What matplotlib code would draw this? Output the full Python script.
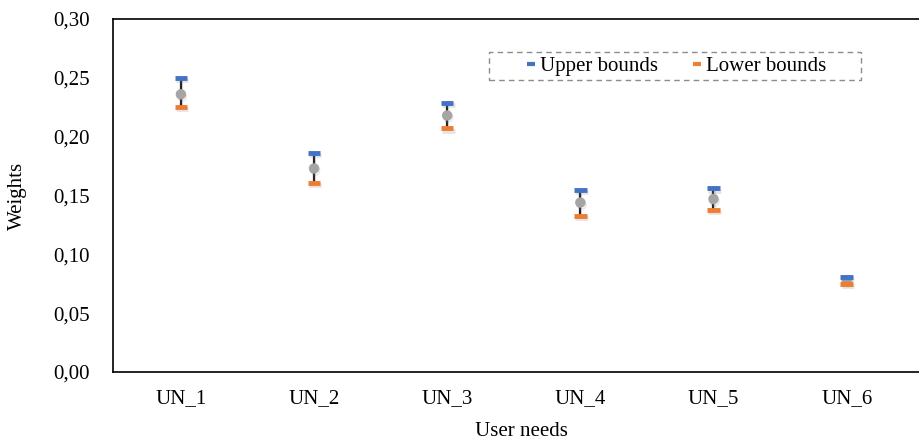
import matplotlib
matplotlib.use("Agg")
import matplotlib.pyplot as plt
from matplotlib.lines import Line2D
from matplotlib.patches import Rectangle
import matplotlib.patheffects as pe
from matplotlib.ticker import FuncFormatter

categories = ["UN_1", "UN_2", "UN_3", "UN_4", "UN_5", "UN_6"]
upper = [0.250, 0.186, 0.229, 0.155, 0.156, 0.081]
lower = [0.225, 0.161, 0.207, 0.133, 0.138, 0.075]
mid = [0.236, 0.173, 0.218, 0.144, 0.147, 0.078]
yticks = [0.00, 0.05, 0.10, 0.15, 0.20, 0.25, 0.30]

plt.rcParams['font.family'] = ['Liberation Serif', 'DejaVu Serif']

fig = plt.figure(figsize=(9.2, 4.41), dpi=100)
ax = fig.add_axes([113/920, 1-372/441, 1-113/920 + 0.01, (372-19)/441])

x = list(range(len(categories)))
shadow = [pe.SimpleLineShadow(offset=(0.8, -1.5), shadow_color='gray', alpha=0.2), pe.Normal()]

for i in x:
    ax.plot([i, i], [lower[i], upper[i]], color='#262626', lw=1.6, zorder=2,
            path_effects=shadow, solid_capstyle='butt')
ax.plot(x, mid, linestyle='none', marker='o', markersize=6.5, color='#A5A5A5',
        zorder=3, path_effects=shadow)
ax.plot(x, upper, linestyle='none', marker='_', markersize=9, mew=3.5,
        color='#4472C4', zorder=4, path_effects=shadow)
ax.plot(x, lower, linestyle='none', marker='_', markersize=9, mew=3.5,
        color='#ED7D31', zorder=4, path_effects=shadow)

ax.set_xlim(-0.51, 5.62)
ax.set_ylim(0, 0.30)
ax.set_xticks(x)
ax.set_xticklabels(categories)
ax.set_yticks(yticks)
ax.yaxis.set_major_formatter(FuncFormatter(lambda v, p: f"{v:.2f}".replace('.', ',')))
ax.tick_params(axis='y', length=0, labelsize=15, pad=17)
ax.tick_params(axis='x', length=0, labelsize=15, pad=12)
ax.spines['right'].set_visible(False)
for s in ['left', 'bottom', 'top']:
    ax.spines[s].set_linewidth(1.2)
ax.set_xlabel("User needs", fontsize=15, labelpad=10)
ax.set_ylabel("Weights", fontsize=15)
ax.yaxis.set_label_coords(27/920, 1-195.5/441, transform=fig.transFigure)

# legend
fig.patches.append(Rectangle((489/920, 1-80/441), (861-489)/920, 28/441,
                             transform=fig.transFigure, fill=False,
                             edgecolor='#8c8c8c', linestyle=(0, (4, 3)), lw=1.0))
handles = [Line2D([], [], linestyle='none', marker='_', markersize=6, mew=3, color='#4472C4'),
           Line2D([], [], linestyle='none', marker='_', markersize=6, mew=3, color='#ED7D31')]
fig.legend(handles, ["Upper bounds", "Lower bounds"], loc='center',
           bbox_to_anchor=(676/920, 1-66/441), ncol=2, frameon=False, fontsize=15,
           handlelength=0.5, handletextpad=0.2, columnspacing=1.6, borderpad=0)

fig.savefig("out.png", dpi=100)
